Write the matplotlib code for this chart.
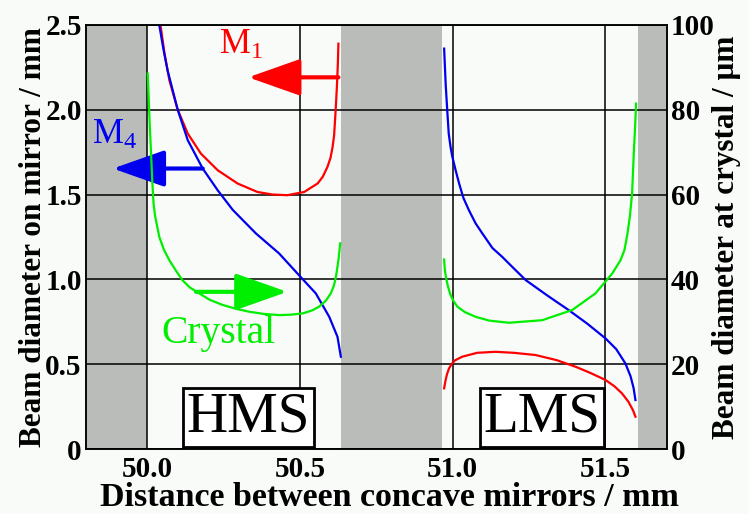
import matplotlib
matplotlib.use("Agg")
import matplotlib.pyplot as plt

plt.rcParams['font.family'] = ['Liberation Serif', 'DejaVu Serif']
plt.rcParams['mathtext.fontset'] = 'custom'
plt.rcParams['mathtext.rm'] = 'Liberation Serif'
plt.rcParams['mathtext.it'] = 'Liberation Serif:italic'
plt.rcParams['mathtext.bf'] = 'Liberation Serif:bold'

# --- data ---
# HMS branch (left block), mirror diameters in mm, crystal in um
hms_m1_x = [50.044, 50.057, 50.073, 50.1, 50.133, 50.176, 50.231, 50.296, 50.361, 50.41, 50.459,
            50.514, 50.558, 50.575, 50.59, 50.6, 50.607, 50.612, 50.615, 50.618, 50.621, 50.624, 50.626]
hms_m1_y = [2.496, 2.33, 2.172, 2.0, 1.859, 1.741, 1.643, 1.565, 1.515, 1.5, 1.496,
            1.515, 1.565, 1.605, 1.662, 1.715, 1.78, 1.85, 1.937, 2.03, 2.133, 2.26, 2.388]

hms_m4_x = [50.04, 50.053, 50.067, 50.1, 50.133, 50.182, 50.231, 50.28, 50.356, 50.432, 50.497,
            50.552, 50.596, 50.623, 50.634]
hms_m4_y = [2.496, 2.36, 2.231, 2.0, 1.82, 1.653, 1.525, 1.41, 1.271, 1.153, 1.025,
            0.918, 0.78, 0.662, 0.545]

hms_cr_x = [50.002, 50.008, 50.013, 50.017, 50.021, 50.026, 50.04, 50.055, 50.073, 50.095, 50.116,
            50.14, 50.171, 50.205, 50.247, 50.29, 50.334, 50.38, 50.432, 50.47, 50.509, 50.54,
            50.563, 50.585, 50.601, 50.611, 50.618, 50.626, 50.632]
hms_cr_y = [88.5, 77.5, 69.6, 63.0, 58.0, 55.0, 50.0, 47.0, 44.5, 42.0, 39.8,
            38.1, 36.7, 35.2, 34.0, 33.1, 32.4, 31.9, 31.6, 31.7, 32.0, 32.7,
            33.6, 35.0, 36.7, 38.5, 40.6, 44.5, 48.5]

# LMS branch (right block)
lms_m4_x = [50.972, 50.977, 50.982, 50.987, 50.993, 50.999, 51.01, 51.021, 51.035, 51.053, 51.075,
            51.097, 51.13, 51.162, 51.2, 51.239, 51.31, 51.38, 51.44, 51.5, 51.535, 51.565,
            51.582, 51.592, 51.598]
lms_m4_y = [2.359, 2.15, 2.0, 1.859, 1.78, 1.721, 1.64, 1.565, 1.48, 1.408, 1.33,
            1.271, 1.185, 1.133, 1.065, 0.996, 0.905, 0.819, 0.74, 0.653, 0.59, 0.506,
            0.43, 0.36, 0.29]

lms_m1_x = [50.972, 50.976, 50.981, 50.988, 50.997, 51.008, 51.031, 51.08, 51.14, 51.2, 51.271,
            51.34, 51.402, 51.45, 51.5, 51.53, 51.554, 51.575, 51.59, 51.598]
lms_m1_y = [0.359, 0.40, 0.44, 0.476, 0.503, 0.524, 0.545, 0.568, 0.574, 0.568, 0.555,
            0.525, 0.486, 0.45, 0.408, 0.37, 0.329, 0.28, 0.23, 0.192]

lms_cr_x = [50.972, 50.974, 50.978, 50.984, 50.992, 51.002, 51.015, 51.04, 51.075, 51.12, 51.184,
            51.293, 51.391, 51.467, 51.522, 51.549, 51.562, 51.572, 51.58, 51.587, 51.593,
            51.597, 51.6]
lms_cr_y = [44.7, 42.5, 40.5, 38.5, 36.5, 35.0, 33.6, 32.3, 31.2, 30.3, 29.8,
            30.4, 32.8, 36.7, 41.4, 44.5, 46.9, 50.8, 55.0, 60.2, 70.4,
            76.0, 81.4]

# unstable (shaded) regions
gray_spans = [(49.8, 50.0), (50.636, 50.964), (51.605, 51.7)]

x_ticks = [50.0, 50.5, 51.0, 51.5]
y_ticks = [0, 0.5, 1.0, 1.5, 2.0, 2.5]
y_ticklabels = ['0', '0.5', '1.0', '1.5', '2.0', '2.5']
y2_ticks = [0, 20, 40, 60, 80, 100]

RED = '#ff0000'
BLUE = '#0000ee'
GREEN = '#00ee00'
BG = '#f9fbf9'

fig = plt.figure(figsize=(7.49, 5.14), dpi=100, facecolor=BG)
ax = fig.add_axes([0.1148, 0.1259, 0.7752, 0.8261])
ax.set_facecolor(BG)
ax2 = ax.twinx()

for a, b in gray_spans:
    ax.axvspan(a, b, color='#b9bcb9', lw=0, zorder=0)

ax.set_xlim(49.8, 51.7)
ax.set_ylim(0, 2.5)
ax2.set_ylim(0, 100)

ax.set_xticks(x_ticks)
ax.set_xticklabels(['%.1f' % v for v in x_ticks])
ax.set_yticks(y_ticks)
ax.set_yticklabels(y_ticklabels)
ax2.set_yticks(y2_ticks)
ax.grid(True, color='black', lw=1.1, zorder=1)
ax.set_axisbelow(False)

for a in (ax, ax2):
    a.tick_params(length=0, pad=3, labelsize=21)
    for lab in a.get_xticklabels() + a.get_yticklabels():
        lab.set_fontweight('bold')
    for s in a.spines.values():
        s.set_linewidth(1.1)
ax.tick_params(axis='x', pad=5)

ax.set_xlabel('Distance between concave mirrors / mm', fontsize=24.5, fontweight='bold')
ax.xaxis.set_label_coords(0.5235, -0.076)
ax.set_ylabel('Beam diameter on mirror / mm', fontsize=22.5, fontweight='bold', labelpad=-2)
ax2.set_ylabel('Beam diameter at crystal / μm', fontsize=22.5, fontweight='bold', labelpad=-2)

lw = 1.6
ax.plot(hms_m1_x, hms_m1_y, color=RED, lw=lw, zorder=3)
ax.plot(hms_m4_x, hms_m4_y, color=BLUE, lw=lw, zorder=3)
ax2.plot(hms_cr_x, hms_cr_y, color=GREEN, lw=lw, zorder=3)
ax.plot(lms_m1_x, lms_m1_y, color=RED, lw=lw, zorder=3)
ax.plot(lms_m4_x, lms_m4_y, color=BLUE, lw=lw, zorder=3)
ax2.plot(lms_cr_x, lms_cr_y, color=GREEN, lw=lw, zorder=3)

astyle = '-|>,head_length=0.85,head_width=0.3'
arrows = [((50.331, 2.19), (50.626, 2.19), RED),
          ((49.888, 1.653), (50.182, 1.653), BLUE),
          ((50.459, 0.927), (50.16, 0.927), GREEN)]
for tip, tail, c in arrows:
    ax.annotate('', xy=tip, xytext=tail,
                arrowprops=dict(arrowstyle=astyle, color=c, lw=3.0, mutation_scale=38,
                                shrinkA=0, shrinkB=0), zorder=4)

ax.text(50.236, 2.33, 'M$_1$', color=RED, fontsize=25, ha='left', va='baseline')
ax.text(49.821, 1.80, 'M$_4$', color=BLUE, fontsize=25, ha='left', va='baseline')
ax.text(50.046, 0.625, 'Crystal', color=GREEN, fontsize=28.5, ha='left', va='baseline')

box = dict(boxstyle='square,pad=0.06', fc='white', ec='black', lw=2)
ax.text(50.332, 0.187, 'HMS', fontsize=41, ha='center', va='center', bbox=box, zorder=5)
ax.text(51.292, 0.187, 'LMS', fontsize=41, ha='center', va='center', bbox=box, zorder=5)

fig.savefig('out.png', dpi=100, facecolor=BG)
